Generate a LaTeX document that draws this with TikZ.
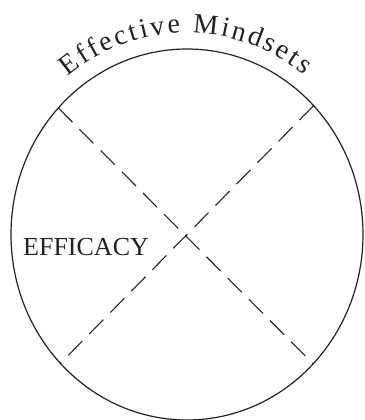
\documentclass[tikz,border=0pt]{standalone}
\usepackage{fontspec}
\setmainfont{Liberation Serif}
\usetikzlibrary{decorations.text,calc}
\definecolor{ink}{HTML}{222222}
\begin{document}
\begin{tikzpicture}[x=1pt,y=1pt,
  outline/.style={draw=ink, line width=1.2pt},
  divider/.style={draw=ink, line width=1.1pt, dash pattern=on 20pt off 10pt},
  label/.style={text=ink, inner sep=0pt, font=\fontsize{26}{30}\selectfont}]
\useasboundingbox (0,0) rectangle (364,420);
\coordinate (c) at (187,185.5);
\draw[outline] (c) ellipse [x radius=176, y radius=185.5];
\coordinate (p1) at ($(c)+(137:176 and 185.5)$);
\coordinate (p2) at ($(c)+(44:176 and 185.5)$);
\coordinate (p3) at ($(c)+(-136:176 and 185.5)$);
\coordinate (p4) at ($(c)+(-44.2:176 and 185.5)$);
\draw[divider] (p1) -- (p4);
\draw[divider] (p2) -- (p3);
\node[label, anchor=base west] (eff) at (23,164) {EFFICACY};
\path[decorate, decoration={text along path,
   text={|\fontsize{28}{32}\selectfont\color{ink}|Effective Mindsets},
   text align={fit to path}}]
   (c) ++(128.5:192 and 201.5) arc[start angle=128.5, end angle=52.5, x radius=192, y radius=201.5];
\end{tikzpicture}
\end{document}
